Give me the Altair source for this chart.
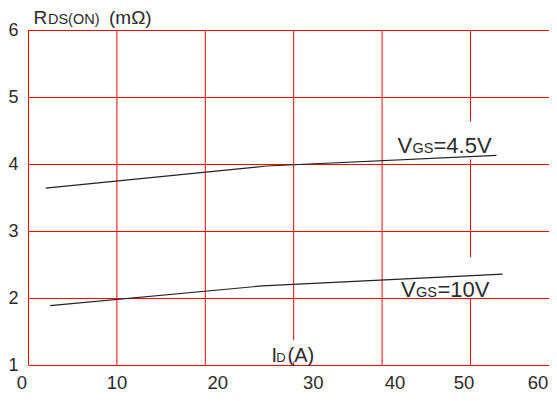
import altair as alt
import pandas as pd

FONT = "Liberation Sans"
TXT = "#2b2b2b"
RED = "#ff0000"

# ticks
X_TICKS = [0, 10, 20, 30, 40, 50, 60]
Y_TICKS = [1, 2, 3, 4, 5, 6]

# curves: RDS(ON) vs ID
SERIES = ["VGS=4.5V", "VGS=10V"]
ID_45 = [2.0, 27.0, 53.0]
RDS_45 = [3.64, 3.97, 4.13]
ID_10 = [2.5, 26.5, 53.7]
RDS_10 = [1.886, 2.18, 2.355]

# vertical grid / frame segments as they appear (broken behind labels)
VGRID_X = [0, 10, 20, 30, 30, 40, 50, 50, 50]
VGRID_Y1 = [1.0, 1.0, 1.0, 1.37, 1.0, 1.0, 4.63, 2.61, 1.0]
VGRID_Y2 = [6.0, 6.0, 6.0, 6.0, 1.05, 6.0, 6.0, 4.07, 2.0]

# annotation texts (split into normal / subscript parts)
TITLE_PARTS = ["R", "DS(ON)", "(mΩ)"]
XTITLE_PARTS = ["I", "D", "(A)"]
LAB45_PARTS = ["V", "GS", "=4.5V"]
LAB10_PARTS = ["V", "GS", "=10V"]

# anchors of annotations in data units (x = ID, y = RDS)
TITLE_AT = (0.62, 6.097)
XTITLE_AT = (27.55, 1.045)
LAB45_AT = (41.8, 4.164)
LAB10_AT = (42.2, 2.015)

# visible part of the x range (the 60 line sits just past the picture edge)
X_VIEW = [0, 58.94]
Y_VIEW = [1, 6]

xscale = alt.Scale(domain=X_VIEW, nice=False, zero=False)
yscale = alt.Scale(domain=Y_VIEW, nice=False, zero=False)

yaxis = alt.Axis(
    values=Y_TICKS, grid=True, gridColor=RED, gridWidth=1, gridOpacity=1,
    domain=False, ticks=False, labelPadding=10, labelFontSize=18,
    labelFont=FONT, labelColor=TXT, title=None, format="d",
)


def X(field, typ="Q"):
    return alt.X(f"{field}:{typ}", scale=xscale, axis=None)


def Y(field, typ="Q"):
    return alt.Y(f"{field}:{typ}", scale=yscale, axis=yaxis)


vgrid = alt.Chart(
    pd.DataFrame({"x": VGRID_X, "y": VGRID_Y1, "y2": VGRID_Y2})
).mark_rule(color=RED, strokeWidth=1, xOffset=0.5).encode(
    x=X("x"), y=Y("y"), y2="y2:Q",
)

lines_df = pd.DataFrame({
    "x": ID_45 + ID_10,
    "y": RDS_45 + RDS_10,
    "s": [SERIES[0]] * len(ID_45) + [SERIES[1]] * len(ID_10),
})
lines = alt.Chart(lines_df).mark_line(color="#222222", strokeWidth=1.2).encode(
    x=X("x"), y=Y("y"), detail="s:N",
)

# x tick labels (the scanned original has them slightly displaced)
LABEL_NUDGE = {0: -6, 10: 0.6, 20: 13, 30: 20, 40: 13.4, 50: -6, 60: -20.4}
tick_df = pd.DataFrame({"x": X_TICKS, "y": [Y_VIEW[0]] * len(X_TICKS)})
xlabels = []
for t in X_TICKS:
    xlabels.append(
        alt.Chart(tick_df).transform_filter(f"datum.x == {t}").mark_text(
            align="center", baseline="alphabetic", dx=LABEL_NUDGE[t], dy=24,
            fontSize=18.5, font=FONT, color=TXT,
        ).encode(
            x=X("x"), y=Y("y"), text=alt.Text("x:Q", format="d"),
        )
    )


def piece(text, at, dx, size):
    df = pd.DataFrame({"x": [at[0]], "y": [at[1]], "t": [text]})
    return alt.Chart(df).mark_text(
        align="left", baseline="alphabetic", dx=dx, fontSize=size,
        font=FONT, color=TXT,
    ).encode(x=X("x"), y=Y("y"), text="t:N")


texts = [
    piece(TITLE_PARTS[0], TITLE_AT, 0, 19),
    piece(TITLE_PARTS[1], TITLE_AT, 14.5, 14.5),
    piece(TITLE_PARTS[2], TITLE_AT, 75.5, 19),
    piece(XTITLE_PARTS[0], XTITLE_AT, 0, 20),
    piece(XTITLE_PARTS[1], XTITLE_AT, 4.7, 13),
    piece(XTITLE_PARTS[2], XTITLE_AT, 16, 20),
    piece(LAB45_PARTS[0], LAB45_AT, 0, 22),
    piece(LAB45_PARTS[1], LAB45_AT, 15, 14.5),
    piece(LAB45_PARTS[2], LAB45_AT, 36, 22),
    piece(LAB10_PARTS[0], LAB10_AT, 0, 22),
    piece(LAB10_PARTS[1], LAB10_AT, 15, 14.5),
    piece(LAB10_PARTS[2], LAB10_AT, 36.5, 22),
]

chart = alt.layer(vgrid, lines, *xlabels, *texts).properties(
    width=521,
    height=335,
    autosize=alt.AutoSizeParams(type="none"),
    padding={"left": 20, "top": 22, "right": 0, "bottom": 28},
    background="white",
).configure_view(strokeWidth=0)

chart.save("out.html", embed_options={"renderer": "svg", "actions": False})
